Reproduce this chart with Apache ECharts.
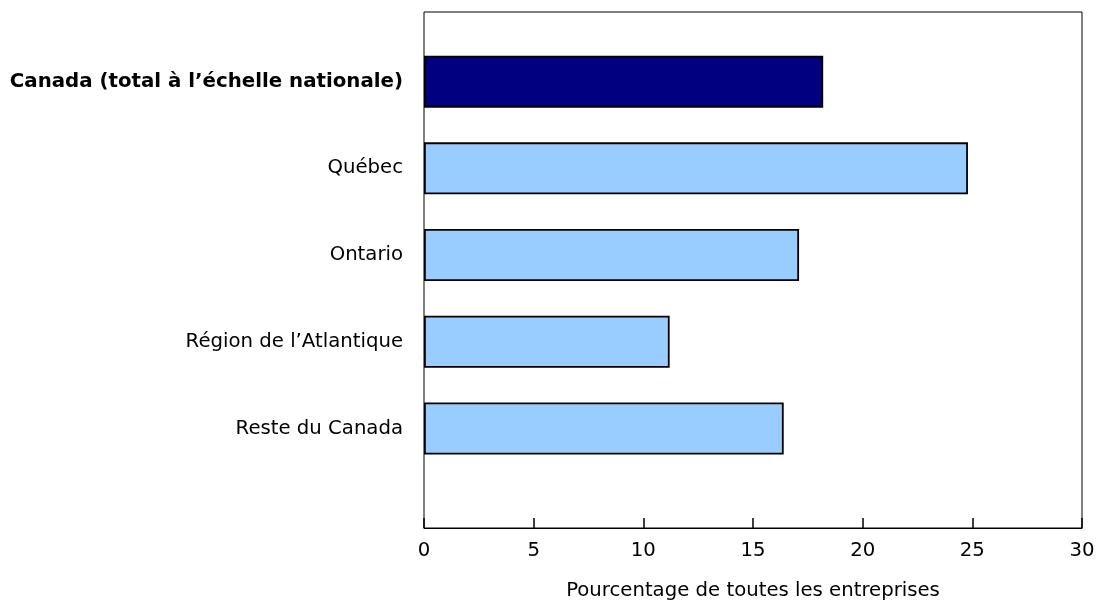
<!DOCTYPE html>
<html>
<head>
<meta charset="utf-8">
<script src="https://cdn.jsdelivr.net/npm/echarts@6/dist/echarts.min.js"></script>
<style>html,body{margin:0;padding:0;background:#fff}#c{width:1099px;height:606px}</style>
</head>
<body>
<div id="c"></div>
<script>
const categories = ['Canada (total à l’échelle nationale)', 'Québec', 'Ontario', 'Région de l’Atlantique', 'Reste du Canada'];
const values = [18.2, 24.8, 17.1, 11.2, 16.4];
const xTicks = [0, 5, 10, 15, 20, 25, 30];
const xTitle = 'Pourcentage de toutes les entreprises';
const highlightIndex = 0;

const FONT = 'DejaVu Sans';
const FS = 19.7;
const chart = echarts.init(document.getElementById('c'), null, {renderer: 'canvas'});
chart.setOption({
  animation: false,
  backgroundColor: '#fff',
  grid: [
    {left: 424, right: 17, top: 12, height: 520, show: true, borderColor: '#000', borderWidth: 1, backgroundColor: 'transparent'},
    {left: 424, right: 17, top: 38.3, height: 433.5}
  ],
  xAxis: [
    {
      gridIndex: 0, type: 'value', min: xTicks[0], max: xTicks[xTicks.length - 1], interval: 5,
      axisLine: {show: true, lineStyle: {color: '#000', width: 1}},
      axisTick: {show: true, inside: true, length: 10, lineStyle: {color: '#000', width: 1.5}},
      axisLabel: {color: '#000', fontFamily: FONT, fontSize: FS, margin: 13},
      splitLine: {show: false},
      name: xTitle, nameLocation: 'middle', nameGap: 53,
      nameTextStyle: {color: '#000', fontFamily: FONT, fontSize: FS}
    },
    {
      gridIndex: 1, type: 'value', min: xTicks[0], max: xTicks[xTicks.length - 1], interval: 5,
      show: false
    }
  ],
  yAxis: [
    {gridIndex: 0, type: 'value', show: false},
    {
      gridIndex: 1, type: 'category', inverse: true,
      data: categories.map((c, i) => i === highlightIndex ? {value: c, textStyle: {fontWeight: 'bold', fontSize: 19.8}} : c),
      axisLine: {show: false}, axisTick: {show: false},
      axisLabel: {color: '#000', fontFamily: FONT, fontSize: FS, margin: 21}
    }
  ],
  series: [{
    type: 'bar', xAxisIndex: 1, yAxisIndex: 1,
    barWidth: 52,
    data: values.map((v, i) => ({
      value: v,
      itemStyle: {color: i === highlightIndex ? '#000080' : '#99ccff', borderColor: '#000', borderWidth: 1.8}
    }))
  }]
});
</script>
</body>
</html>
